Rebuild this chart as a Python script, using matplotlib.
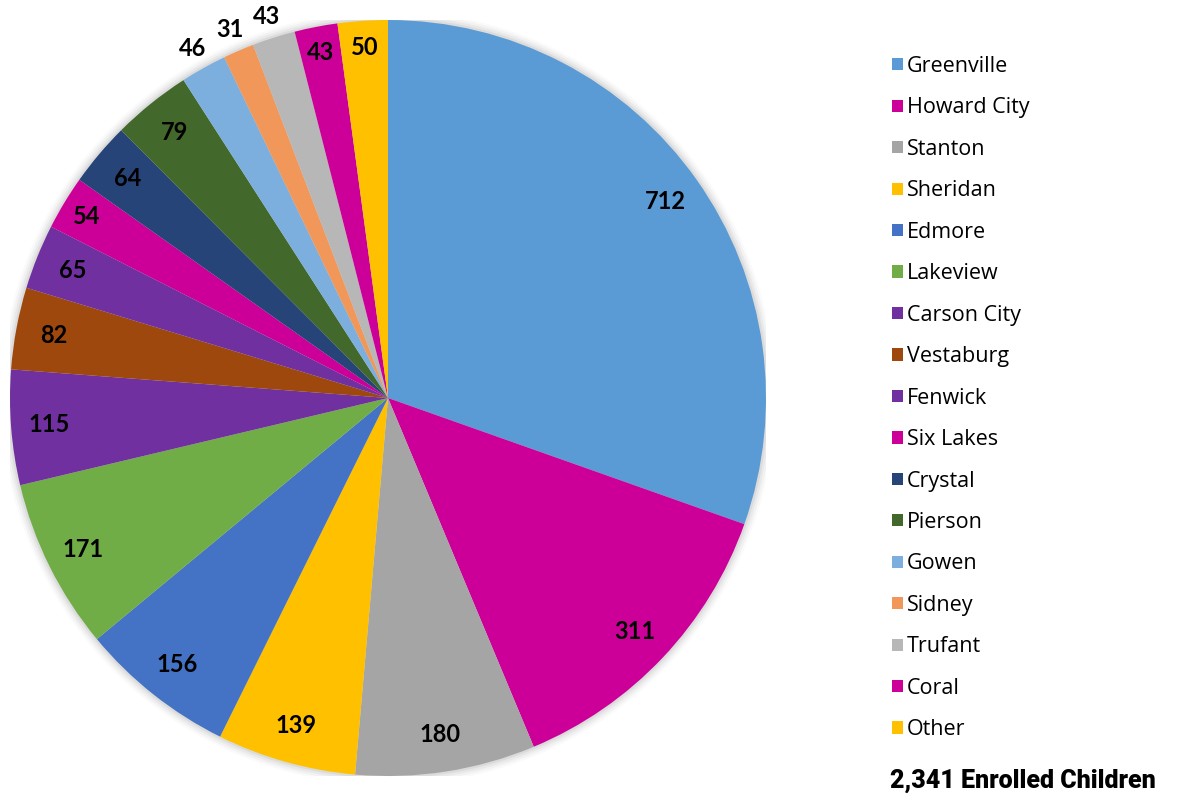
import matplotlib
import numpy as np

matplotlib.use("Agg")
import matplotlib.pyplot as plt
from matplotlib.patches import Patch

towns = ["Greenville", "Howard City", "Stanton", "Sheridan", "Edmore", "Lakeview",
         "Carson City", "Vestaburg", "Fenwick", "Six Lakes", "Crystal", "Pierson",
         "Gowen", "Sidney", "Trufant", "Coral", "Other"]
children = [712, 311, 180, 139, 156, 171, 115, 82, 65, 54, 64, 79, 46, 31, 43, 43, 50]
colors = ["#5B9BD5", "#CC0099", "#A5A5A5", "#FFC000", "#4472C4", "#70AD47",
          "#7030A0", "#9E480E", "#7030A0", "#CC0099", "#264478", "#43682B",
          "#7CAFDD", "#F1975A", "#B7B7B7", "#CC0099", "#FFC000"]
# slices whose number sits outside the pie
outside = ["Gowen", "Sidney", "Trufant"]

total = sum(children)

fig = plt.figure(figsize=(11.77, 7.96), dpi=100)
W, H = 1177, 796
cx, cy, R = 388, 398, 378
ax = fig.add_axes([(cx - R) / W, (H - cy - R) / H, 2 * R / W, 2 * R / H])

# soft shadow behind the pie
for i, a in enumerate([0.05, 0.04, 0.03, 0.02]):
    ax.add_patch(plt.Circle((0.0, 0.0), 1.0 + 0.006 * (i + 1), color="black",
                            alpha=a, lw=0, zorder=0))

wedges, _ = ax.pie(children, colors=colors, startangle=90, counterclock=False,
                   radius=1.0, wedgeprops=dict(linewidth=0))
for w in wedges:
    w.set_zorder(2)

for w, name, v in zip(wedges, towns, children):
    ang = np.deg2rad((w.theta1 + w.theta2) / 2)
    if name in outside:
        d = 1.06
    elif v < 60:
        d = 0.93
    else:
        d = 0.9
    ax.text(d * np.cos(ang), d * np.sin(ang), str(v), ha="center", va="center",
            fontsize=17, fontweight="bold", family="Lato", color="black", zorder=5)

ax.set_xlim(-1, 1)
ax.set_ylim(-1, 1)
ax.set_aspect("equal")
ax.axis("off")

handles = [Patch(facecolor=c, edgecolor="none") for c in colors]
fig.legend(handles, towns, loc="upper left", bbox_to_anchor=(892 / W, 1 - 56 / H),
           frameon=False, handlelength=0.5, handleheight=0.5,
           handletextpad=0.2, labelspacing=0.95, borderaxespad=0,
           borderpad=0, prop={"family": "Open Sans", "size": 15.5})

fig.text(890 / W, 1 - 781 / H, f"{total:,} Enrolled Children", ha="left",
         va="center", fontsize=18, fontweight="black", family="Roboto")

fig.savefig("out.png", dpi=100)
